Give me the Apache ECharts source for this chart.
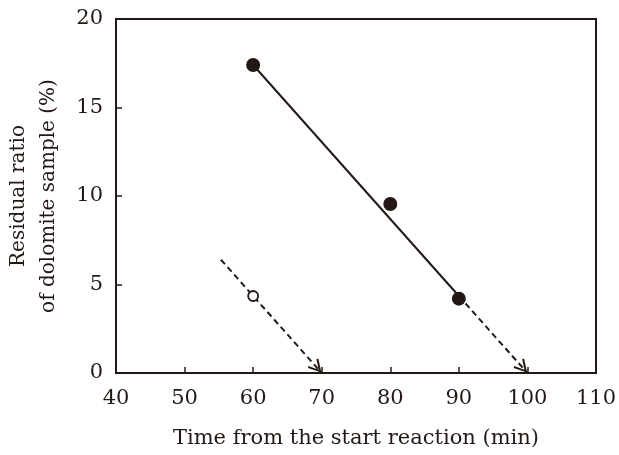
<!DOCTYPE html>
<html><head><meta charset="utf-8">
<script src="https://cdn.jsdelivr.net/npm/echarts@6/dist/echarts.min.js"></script>
<style>html,body{margin:0;padding:0;background:#fff}#c{width:619px;height:455px}</style>
</head><body><div id="c"></div>
<script>
var xTicks = [40, 50, 60, 70, 80, 90, 100, 110];
var yTicks = [0, 5, 10, 15, 20];
var filledX = [60, 80, 90];
var filledY = [17.4, 9.55, 4.2];
var openX = [60];
var openY = [4.35];
var fitX = [60, 90];
var fitY = [17.4, 4.35];
var dash1X = [90, 100];
var dash1Y = [4.35, 0];
var dash2X = [55.3, 70];
var dash2Y = [6.4, 0];

var C = '#231815';
var font = 'DejaVu Serif';
// open chevron; invisible speck at top keeps the tip at the symbol centre
var arrowPath = 'path://M0,-12 L0.01,-12 L0,-11.99 Z M0,0 L6,10 L4.6,11 L0,3.2 L-4.6,11 L-6,10 Z';

function pairs(xs, ys){ return xs.map(function(x,i){return [x, ys[i]];}); }

var chart = echarts.init(document.getElementById('c'), null, {renderer:'canvas'});
chart.setOption({
  animation: false,
  backgroundColor: '#fff',
  grid: {left:116, right:23, top:19, bottom:82, outerBoundsMode:'none', containLabel:false,
         show:true, borderColor:C, borderWidth:2, backgroundColor:'transparent'},
  xAxis: {
    type:'value', min:xTicks[0], max:xTicks[xTicks.length-1], interval:10,
    name:'Time from the start reaction (min)', nameLocation:'middle', nameGap:55,
    nameTextStyle:{fontFamily:font, fontSize:21, color:C},
    axisLine:{show:true, lineStyle:{color:C, width:2}},
    axisTick:{show:true, inside:true, length:6, lineStyle:{color:C, width:1.5}},
    axisLabel:{fontFamily:font, fontSize:21, color:C, margin:15},
    splitLine:{show:false}
  },
  yAxis: {
    type:'value', min:yTicks[0], max:yTicks[yTicks.length-1], interval:5,
    name:'Residual ratio\nof dolomite sample (%)', nameLocation:'middle', nameGap:52, nameRotate:90,
    nameTextStyle:{fontFamily:font, fontSize:20, color:C, lineHeight:30, align:'center'},
    axisLine:{show:true, lineStyle:{color:C, width:2}},
    axisTick:{show:true, inside:true, length:6, lineStyle:{color:C, width:1.5}},
    axisLabel:{fontFamily:font, fontSize:21, color:C, margin:13},
    splitLine:{show:false}
  },
  series: [
    {
      type:'line', data:pairs(fitX, fitY), symbol:'none',
      lineStyle:{color:C, width:2}, z:2,
      markLine:{
        silent:true, symbol:['none', arrowPath], symbolSize:[14,28],
        label:{show:false},
        lineStyle:{color:C, width:2, type:[6,4], opacity:1},
        data:[
          [{coord:[dash1X[0], dash1Y[0]]}, {coord:[dash1X[1], dash1Y[1]]}],
          [{coord:[dash2X[0], dash2Y[0]]}, {coord:[dash2X[1], dash2Y[1]]}]
        ]
      }
    },
    {
      type:'scatter', data:pairs(filledX, filledY), symbol:'circle', symbolSize:14,
      itemStyle:{color:C, opacity:1}, z:5
    },
    {
      type:'scatter', data:pairs(openX, openY), symbol:'circle', symbolSize:10,
      itemStyle:{color:'#fff', borderColor:C, borderWidth:1.8, opacity:1}, z:5
    }
  ]
});
</script></body></html>
